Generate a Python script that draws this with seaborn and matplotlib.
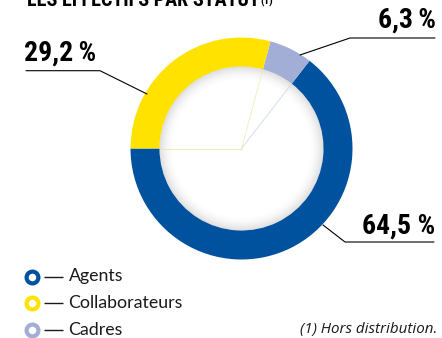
import numpy as np
import matplotlib
matplotlib.use("Agg")
import matplotlib.pyplot as plt
from matplotlib import font_manager
from matplotlib.patches import Wedge
import seaborn as sns

# Répartition des effectifs par statut (%)
categories = ["Agents", "Cadres", "Collaborateurs"]
shares = [64.5, 6.3, 29.2]
legend_order = ["Agents", "Collaborateurs", "Cadres"]
label_texts = {"Agents": "64,5 %", "Cadres": "6,3\u2009%", "Collaborateurs": "29,2\u2009%"}
colors = {"Agents": "#00519e", "Cadres": "#a3aed6", "Collaborateurs": "#ffe200"}

sns.set_theme(style="white")
installed = {f.name for f in font_manager.fontManager.ttflist}
narrow = [f for f in ["Liberation Sans Narrow", "Roboto Condensed", "Liberation Sans"] if f in installed][0]
light = [f for f in ["Lato", "Roboto", "Open Sans"] if f in installed][0]
note_font = [f for f in ["Open Sans", "Lato"] if f in installed][0]
plt.rcParams["font.family"] = [narrow, "DejaVu Sans"]

W, H = 442, 338
fig = plt.figure(figsize=(W / 100, H / 100), dpi=100)
ax = fig.add_axes([0, 0, 1, 1])


def Y(y):
    return H - y


cx, cy = 241.5, Y(148.5)
R, ring = 111, 29

ax.pie(shares, colors=[colors[c] for c in categories], startangle=180,
       counterclock=True, radius=R, center=(cx, cy),
       wedgeprops=dict(width=ring, linewidth=0), frame=True)
ax.set_xlim(0, W)
ax.set_ylim(0, H)
ax.set_aspect("equal")
ax.axis("off")

# soft shadow inside the ring
r_in = R - ring
n = 14
for i in range(n):
    a = 0.22 * (1 - i / n) ** 2
    ax.add_patch(Wedge((cx, cy), r_in - i, 0, 360, width=1.05,
                       facecolor="0.45", alpha=a, linewidth=0))

# faint radial lines at slice boundaries
bounds = 180 + np.cumsum([0] + shares[:-1]) * 3.6
for ang, c in zip(bounds, ["#e8e3b0", "#c9d3e6", "#eeeab8"]):
    t = np.deg2rad(ang)
    ax.plot([cx, cx + r_in * np.cos(t)], [cy, cy + r_in * np.sin(t)],
            color=c, lw=0.6, alpha=0.9)

# value labels with leader lines
lab_font = dict(fontsize=20, fontweight="bold", color="black",
                family=[narrow, "DejaVu Sans"])
ax.text(24, Y(61), label_texts["Collaborateurs"], ha="left", va="baseline", **lab_font)
ax.plot([26, 100, 147], [Y(70.7), Y(70.7), Y(94)], color="black", lw=0.8)

ax.text(436, Y(28), label_texts["Cadres"], ha="right", va="baseline", **lab_font)
ax.plot([435, 350, 300], [Y(38), Y(38), Y(55)], color="black", lw=0.8)

ax.text(435, Y(234), label_texts["Agents"], ha="right", va="baseline", **lab_font)
ax.plot([434, 345, 323], [Y(242), Y(242), Y(225)], color="black", lw=0.8)

# title (partly above the frame)
ax.text(27, Y(6), "LES EFFECTIFS PAR STATUT", ha="left", va="baseline",
        fontsize=14.5, fontweight="bold", color="black", clip_on=False)
ax.text(260, Y(5), "(1)", ha="left", va="baseline", fontsize=8,
        fontweight="bold", color="black", clip_on=False)

# legend
for i, name in enumerate(legend_order):
    yy = Y(276.5 + i * 26.7)
    ax.scatter([31.7], [yy], s=72, facecolor="white", edgecolor=colors[name],
               linewidth=3, zorder=5)
    ax.plot([43.5, 62.5], [yy, yy], color="#1a1a1a", lw=1.0,
            solid_capstyle="butt")
    ax.text(68.5, yy, name, ha="left", va="center", fontsize=12.8,
            color="#1a1a1a", family=[light, "DejaVu Sans"])

ax.text(437, Y(330), "(1) Hors distribution.", ha="right", va="center",
        fontsize=10.9, style="italic", color="#1a1a1a", family=[note_font, "DejaVu Sans"])

fig.savefig("out.png", dpi=100)
